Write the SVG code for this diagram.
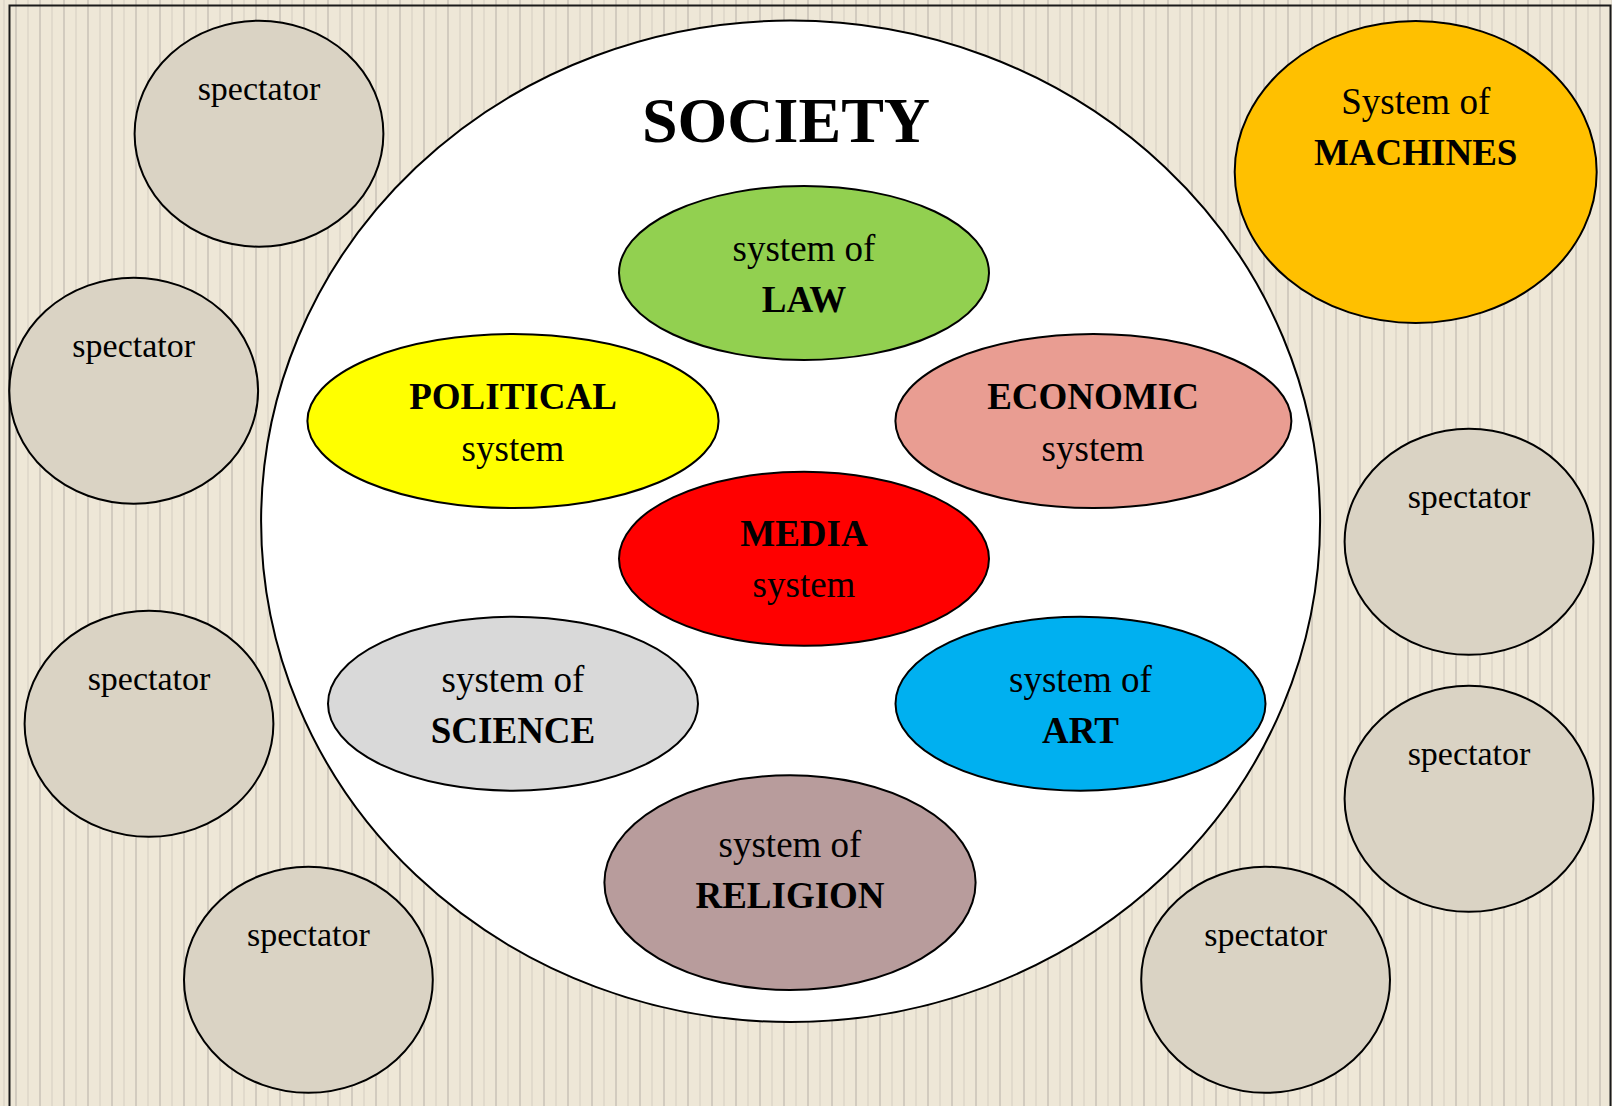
<svg xmlns="http://www.w3.org/2000/svg" width="1612" height="1106" viewBox="0 0 1612 1106">
  <style>
    .node { stroke: #000; stroke-width: 2; }
    .spec { fill: #DAD3C4; stroke: #000; stroke-width: 2; }
    text { font-family: "Liberation Serif", "Times New Roman", serif; fill: #000; text-anchor: middle; }
    .t { font-size: 37px; }
    .b { font-size: 37px; font-weight: bold; }
    .s { font-size: 34px; }
    .title { font-size: 64px; font-weight: bold; }
  </style>
  <defs>
    <pattern id="stripes" patternUnits="userSpaceOnUse" x="0" y="0" width="24" height="10">
      <rect width="24" height="10" fill="#EEE7D7"/>
      <rect x="15" y="0" width="2" height="10" fill="#D2CBBF"/>
      <rect x="3.5" y="0" width="1" height="10" fill="#D4CDC1"/>
    </pattern>
  </defs>
  <rect x="0" y="0" width="1612" height="1106" fill="url(#stripes)"/>
  <rect x="9.5" y="5.5" width="1601" height="1110" fill="none" stroke="#1a1a1a" stroke-width="2"/>

  <g id="society">
    <ellipse cx="790.6" cy="521.3" rx="529.5" ry="500.7" fill="#FFFFFF" stroke="#000" stroke-width="2"/>
    <text class="title" x="786" y="142">SOCIETY</text>
  </g>

  <g id="law">
    <ellipse class="node" cx="804" cy="273" rx="185" ry="87" fill="#92D050"/>
    <text class="t" x="804" y="261">system of</text>
    <text class="b" x="804" y="312">LAW</text>
  </g>
  <g id="political">
    <ellipse class="node" cx="513" cy="421" rx="205.6" ry="87" fill="#FFFF00"/>
    <text class="b" x="513" y="409">POLITICAL</text>
    <text class="t" x="513" y="461">system</text>
  </g>
  <g id="economic">
    <ellipse class="node" cx="1093.4" cy="421" rx="198" ry="87" fill="#E99D92"/>
    <text class="b" x="1093" y="409">ECONOMIC</text>
    <text class="t" x="1093" y="461">system</text>
  </g>
  <g id="media">
    <ellipse class="node" cx="804" cy="558.8" rx="185" ry="87" fill="#FF0000"/>
    <text class="b" x="804" y="546">MEDIA</text>
    <text class="t" x="804" y="597">system</text>
  </g>
  <g id="science">
    <ellipse class="node" cx="513" cy="703.7" rx="185" ry="87" fill="#D9D9D9"/>
    <text class="t" x="513" y="692">system of</text>
    <text class="b" x="513" y="743">SCIENCE</text>
  </g>
  <g id="art">
    <ellipse class="node" cx="1080.5" cy="703.7" rx="185" ry="87" fill="#00B0F0"/>
    <text class="t" x="1080.5" y="692">system of</text>
    <text class="b" x="1080.5" y="743">ART</text>
  </g>
  <g id="religion">
    <ellipse class="node" cx="790" cy="882.6" rx="185.6" ry="107.4" fill="#B89C9C"/>
    <text class="t" x="790" y="857">system of</text>
    <text class="b" x="790" y="908">RELIGION</text>
  </g>
  <g id="machines">
    <ellipse class="node" cx="1415.7" cy="172" rx="181" ry="151" fill="#FFC000"/>
    <text class="t" x="1415.7" y="114">System of</text>
    <text class="b" x="1415.7" y="165">MACHINES</text>
  </g>

  <g id="spectator1">
    <ellipse class="spec" cx="259" cy="133.7" rx="124.4" ry="113"/>
    <text class="s" x="259" y="99.5">spectator</text>
  </g>
  <g id="spectator2">
    <ellipse class="spec" cx="133.7" cy="390.7" rx="124.4" ry="113"/>
    <text class="s" x="133.7" y="356.5">spectator</text>
  </g>
  <g id="spectator3">
    <ellipse class="spec" cx="149" cy="723.8" rx="124.4" ry="113"/>
    <text class="s" x="149" y="689.6">spectator</text>
  </g>
  <g id="spectator4">
    <ellipse class="spec" cx="308.4" cy="979.8" rx="124.4" ry="113"/>
    <text class="s" x="308.4" y="945.6">spectator</text>
  </g>
  <g id="spectator5">
    <ellipse class="spec" cx="1469" cy="541.8" rx="124.4" ry="113"/>
    <text class="s" x="1469" y="507.6">spectator</text>
  </g>
  <g id="spectator6">
    <ellipse class="spec" cx="1469" cy="798.8" rx="124.4" ry="113"/>
    <text class="s" x="1469" y="764.6">spectator</text>
  </g>
  <g id="spectator7">
    <ellipse class="spec" cx="1265.6" cy="979.8" rx="124.4" ry="113"/>
    <text class="s" x="1265.6" y="945.6">spectator</text>
  </g>

  <g id="connectors"></g>
</svg>
